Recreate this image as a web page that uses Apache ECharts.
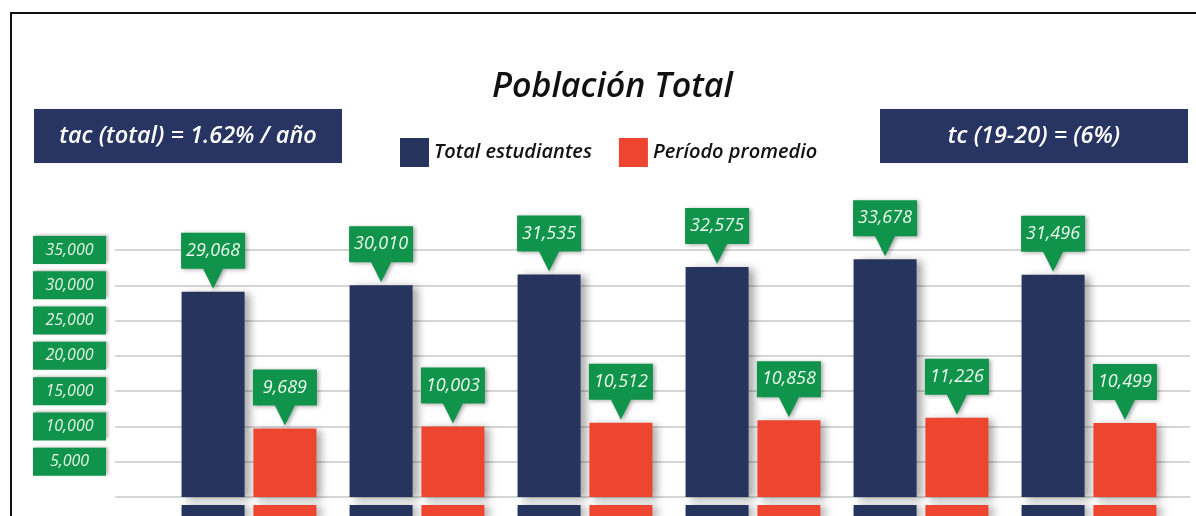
<!DOCTYPE html>
<html>
<head>
<meta charset="utf-8">
<script src="https://cdn.jsdelivr.net/npm/echarts/dist/echarts.min.js"></script>
<style>
html,body{margin:0;padding:0;background:#fff;}
#chart{width:1196px;height:516px;}
</style>
</head>
<body>
<div id="chart"></div>
<script>
const categories = ['2015', '2016', '2017', '2018', '2019', '2020'];
const totalEstudiantes = [29068, 30010, 31535, 32575, 33678, 31496];
const periodoPromedio = [9689, 10003, 10512, 10858, 11226, 10499];
const seriesNames = ['Total estudiantes', 'Período promedio'];
const titleText = 'Población Total';
const leftNote = 'tac (total) = 1.62% / año';
const rightNote = 'tc (19-20) = (6%)';

const NAVY = '#27345e';
const RED = '#ee4530';
const GREEN = '#10934a';
const FONT = '"Open Sans", "Noto Sans", sans-serif';
const fmt = v => Number(v).toLocaleString('en-US');

function callout(values) {
  return {
    symbol: 'path://M0,0 H64 V36 H42 L32,56 L22,36 H0 Z',
    symbolSize: [64, 56],
    symbolOffset: [0, -31],
    silent: true,
    itemStyle: {color: GREEN, shadowBlur: 4, shadowColor: 'rgba(0,0,0,0.35)', shadowOffsetX: 2, shadowOffsetY: 1},
    label: {
      show: true, position: 'inside', offset: [0, -10],
      formatter: p => fmt(p.value),
      color: '#eef8ee', fontSize: 18, fontStyle: 'italic', fontWeight: 500, fontFamily: FONT
    },
    data: values.map((v, i) => ({coord: [i, v], value: v}))
  };
}

const barShadow = {shadowColor: 'rgba(0,0,0,0.35)', shadowBlur: 8, shadowOffsetX: 5, shadowOffsetY: 2};

const chart = echarts.init(document.getElementById('chart'), null, {renderer: 'canvas'});
chart.setOption({
  animation: false,
  backgroundColor: '#fff',
  title: {
    text: titleText, left: 492, top: 70, padding: 0,
    textStyle: {fontFamily: FONT, fontSize: 34, fontStyle: 'italic', fontWeight: 600, color: '#111'}
  },
  legend: {
    left: 400, top: 138, padding: 0, itemWidth: 29, itemHeight: 29, itemGap: 27, icon: 'rect',
    selectedMode: false,
    data: seriesNames,
    textStyle: {fontFamily: FONT, fontSize: 20, fontStyle: 'italic', fontWeight: 600, color: '#111'}
  },
  graphic: [
    {type: 'rect', shape: {x: 34, y: 109, width: 308, height: 54}, style: {fill: '#283461'},
     textContent: {style: {text: leftNote, fill: '#fff', font: 'italic 600 23.5px ' + FONT}},
     textConfig: {position: 'inside'}},
    {type: 'rect', shape: {x: 880, y: 109, width: 308, height: 54}, style: {fill: '#283461'},
     textContent: {style: {text: rightNote, fill: '#fff', font: 'italic 600 23.5px ' + FONT}},
     textConfig: {position: 'inside'}},
    {type: 'rect', z: 100, silent: true, shape: {x: 11, y: 13, width: 1400, height: 700},
     style: {fill: 'none', stroke: '#111', lineWidth: 2}}
  ],
  grid: [
    {left: 115, right: 6, top: 250, height: 247},
    {left: 165, right: 23, top: 250, height: 247},
    {left: 165, right: 23, top: 505, bottom: 0}
  ],
  xAxis: [
    {gridIndex: 0, type: 'value', show: false},
    {gridIndex: 1, type: 'category', data: categories, show: false},
    {gridIndex: 2, type: 'category', data: categories, show: false}
  ],
  yAxis: [
    {
      gridIndex: 0, type: 'value', min: 0, max: 35000, interval: 5000,
      axisLine: {show: false}, axisTick: {show: false},
      splitLine: {lineStyle: {color: '#c8c8c8', width: 1.5}},
      axisLabel: {
        margin: 9, showMinLabel: false,
        formatter: v => v > 0 ? '{b|' + fmt(v) + '}' : '',
        rich: {b: {width: 73, height: 28, align: 'center', backgroundColor: GREEN,
                   color: '#e4f3e4', fontSize: 16, fontStyle: 'italic', fontFamily: FONT,
                   shadowBlur: 3, shadowColor: 'rgba(0,0,0,0.3)', shadowOffsetX: 2, shadowOffsetY: -1}}
      }
    },
    {gridIndex: 1, type: 'value', min: 0, max: 35000, interval: 5000, show: false, splitLine: {show: false}},
    {gridIndex: 2, type: 'value', min: 0, max: 1000, show: false, splitLine: {show: false}}
  ],
  series: [
    {
      name: seriesNames[0], type: 'bar', xAxisIndex: 1, yAxisIndex: 1,
      data: totalEstudiantes, barWidth: 63, barGap: '14%',
      itemStyle: Object.assign({color: NAVY}, barShadow),
      markPoint: callout(totalEstudiantes)
    },
    {
      name: seriesNames[1], type: 'bar', xAxisIndex: 1, yAxisIndex: 1,
      data: periodoPromedio, barWidth: 63, barGap: '14%',
      itemStyle: Object.assign({color: RED}, barShadow),
      markPoint: callout(periodoPromedio)
    },
    {
      name: seriesNames[0], type: 'bar', xAxisIndex: 2, yAxisIndex: 2, clip: true, silent: true,
      data: totalEstudiantes, barWidth: 63, barGap: '14%',
      itemStyle: Object.assign({color: NAVY}, barShadow)
    },
    {
      name: seriesNames[1], type: 'bar', xAxisIndex: 2, yAxisIndex: 2, clip: true, silent: true,
      data: periodoPromedio, barWidth: 63, barGap: '14%',
      itemStyle: Object.assign({color: RED}, barShadow)
    }
  ]
});
</script>
</body>
</html>
